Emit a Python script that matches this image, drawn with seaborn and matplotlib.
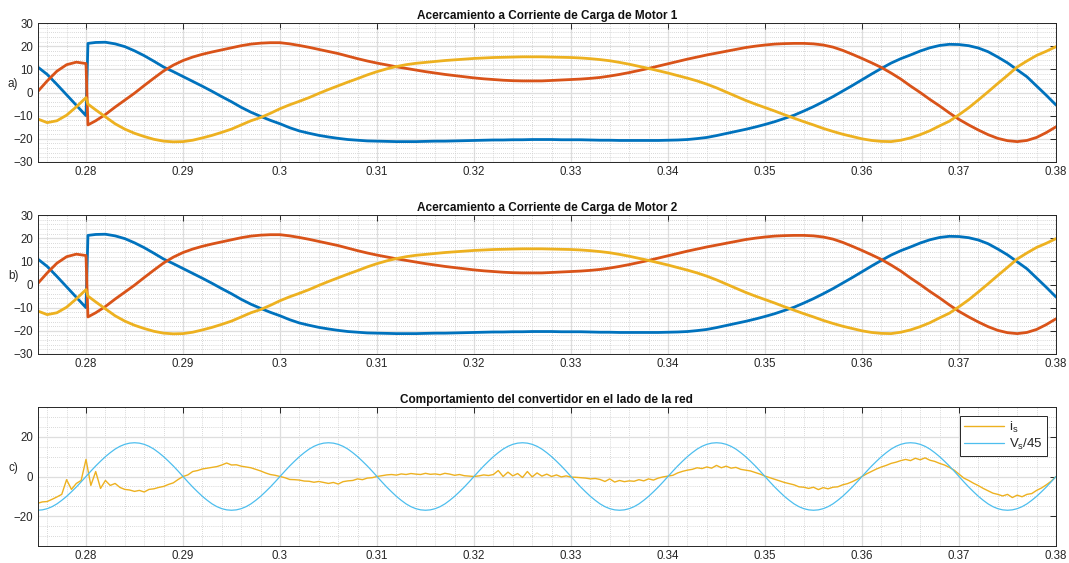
import numpy as np
import pandas as pd
import matplotlib
matplotlib.use("Agg")
import matplotlib.pyplot as plt
from matplotlib.ticker import MultipleLocator, FixedLocator, FixedFormatter
import seaborn as sns

# ---------------------------------------------------------------------------
# Motor load currents (A), three phases.
# First 8 instants cover the start-up step at 0.28 s, then 1 ms spacing.
# ---------------------------------------------------------------------------
t_motor_start = [0.275, 0.276, 0.277, 0.278, 0.279, 0.2800, 0.2802, 0.281]
t_motor_step_from = 0.282   # regular 1 ms samples up to 0.380 s

i_phase_a = [
    11.1, 7.8, 3.5, -1.0, -5.5, -10.0, 21.2, 21.6,                      # start-up
    21.7, 21.0, 19.8, 18.0, 15.9, 13.5, 11.0, 9.0, 6.9, 4.8,            # 0.282
    2.7, 0.5, -1.8, -4.0, -6.4, -8.5, -10.3, -12.0, -13.5, -15.2,       # 0.292
    -16.6, -17.6, -18.5, -19.2, -19.8, -20.3, -20.6, -20.9, -21.0, -21.1,  # 0.302
    -21.2, -21.2, -21.2, -21.1, -21.0, -21.0, -20.9, -20.8, -20.7, -20.6,  # 0.312
    -20.5, -20.5, -20.4, -20.4, -20.3, -20.3, -20.3, -20.4, -20.4, -20.4,  # 0.322
    -20.5, -20.6, -20.6, -20.7, -20.7, -20.7, -20.7, -20.7, -20.6, -20.5,  # 0.332
    -20.3, -19.9, -19.4, -18.6, -17.7, -16.8, -15.9, -14.9, -13.8, -12.6,  # 0.342
    -11.2, -9.8, -8.0, -6.1, -4.0, -1.8, 0.6, 3.0, 5.5, 8.0,            # 0.352
    10.4, 12.7, 14.6, 16.2, 17.9, 19.3, 20.3, 20.8, 20.7, 20.2,         # 0.362
    19.2, 17.6, 15.3, 12.8, 9.8, 6.8, 2.8, -1.2, -5.4,                  # 0.372
]

i_phase_b = [
    0.3, 5.0, 9.2, 12.0, 13.1, 12.5, -14.0, -12.2,                      # start-up
    -9.5, -6.3, -3.3, -0.3, 3.0, 6.2, 9.3, 11.8, 13.8, 15.3,            # 0.282
    16.5, 17.5, 18.4, 19.3, 20.2, 20.9, 21.3, 21.5, 21.5, 21.0,         # 0.292
    20.3, 19.5, 18.6, 17.7, 16.8, 15.7, 14.6, 13.6, 12.7, 11.9,         # 0.302
    11.1, 10.4, 9.7, 9.0, 8.4, 7.8, 7.3, 6.8, 6.3, 5.9,                 # 0.312
    5.6, 5.3, 5.1, 5.0, 5.0, 5.0, 5.2, 5.4, 5.6, 5.8,                   # 0.322
    6.1, 6.5, 7.1, 7.8, 8.6, 9.5, 10.4, 11.4, 12.4, 13.4,               # 0.332
    14.4, 15.3, 16.2, 17.0, 17.8, 18.6, 19.4, 20.0, 20.5, 20.9,         # 0.342
    21.1, 21.2, 21.2, 21.0, 20.5, 19.6, 18.2, 16.5, 14.7, 12.8,         # 0.352
    10.8, 8.4, 5.8, 2.8, 0.0, -3.0, -5.8, -8.8, -11.6, -14.0,           # 0.362
    -16.2, -18.2, -19.8, -20.8, -21.2, -20.7, -19.4, -17.3, -14.8,      # 0.372
]

i_phase_c = [
    -11.4, -13.0, -12.2, -9.8, -6.2, -2.2, -5.0, -7.5,                  # start-up
    -10.5, -13.5, -15.8, -17.6, -19.0, -20.2, -21.0, -21.3, -21.2, -20.6,  # 0.282
    -19.6, -18.5, -17.2, -15.8, -14.0, -12.2, -10.8, -9.0, -7.0, -5.3,  # 0.292
    -3.8, -2.2, -0.4, 1.3, 2.9, 4.5, 6.0, 7.6, 9.0, 10.2,               # 0.302
    11.2, 12.0, 12.6, 13.0, 13.4, 13.8, 14.1, 14.4, 14.7, 14.9,         # 0.312
    15.1, 15.2, 15.3, 15.4, 15.4, 15.4, 15.3, 15.2, 15.1, 14.9,         # 0.322
    14.6, 14.2, 13.7, 13.0, 12.2, 11.3, 10.4, 9.4, 8.4, 7.3,            # 0.332
    6.2, 5.0, 3.6, 2.0, 0.2, -1.6, -3.4, -5.0, -6.5, -8.0,              # 0.342
    -9.6, -11.1, -12.6, -14.0, -15.5, -16.8, -18.0, -19.0, -20.0, -20.7,  # 0.352
    -21.1, -21.2, -20.6, -19.6, -18.2, -16.5, -14.4, -12.4, -9.6, -6.6,   # 0.362
    -3.2, 0.3, 3.9, 7.4, 11.0, 13.6, 16.0, 17.8, 19.8,                  # 0.372
]

# ---------------------------------------------------------------------------
# Grid side of the converter, one row = 5 ms (10 samples of 0.5 ms) from 0.275 s
# ---------------------------------------------------------------------------
t_grid_start = 0.275
t_grid_step = 0.0005

i_s = [
    -13.5, -12.8, -12.6, -11.5, -10.3, -9.0, -1.6, -6.5, -3.5, -2.0,   # 0.275
    8.6, -4.5, 2.5, -6.0, -2.0, -4.5, -3.5, -5.5, -6.5, -6.8,          # 0.280
    -7.5, -7.0, -7.8, -6.5, -6.2, -5.5, -5.0, -4.0, -3.2, -1.5,        # 0.285
    0.0, 0.8, 2.5, 3.0, 3.8, 4.2, 4.6, 5.0, 5.8, 6.8,                  # 0.290
    5.8, 5.9, 5.2, 4.8, 4.4, 3.6, 2.8, 1.8, 1.0, 0.6,                  # 0.295
    0.0, -0.6, -1.5, -1.6, -1.8, -2.3, -2.4, -2.9, -2.5, -3.0,         # 0.300
    -3.5, -3.0, -3.8, -2.6, -2.2, -2.0, -1.2, -1.6, -0.8, -0.6,        # 0.305
    0.0, 0.4, 0.8, 1.0, 0.7, 1.3, 1.0, 1.5, 1.2, 1.0,                  # 0.310
    1.6, 1.1, 1.3, 0.9, 1.6, 1.2, 0.6, 1.0, 0.4, 0.2,                  # 0.315
    0.0, 0.3, 0.8, 0.5, 1.0, 3.0, 0.0, 2.2, 0.3, 1.5,                  # 0.320
    -0.5, 2.5, -0.2, 1.8, 0.2, 1.2, 0.0, 0.8, -0.2, 0.3,               # 0.325
    -0.3, -0.4, -0.6, -0.8, -1.2, -1.0, -1.5, -2.5, -1.2, -2.8,        # 0.330
    -2.0, -2.6, -2.2, -2.4, -1.6, -2.2, -1.2, -1.8, -0.8, -0.2,        # 0.335
    0.2, 0.6, 1.8, 2.6, 3.2, 3.6, 4.4, 4.0, 4.8, 4.2,                  # 0.340
    5.6, 4.4, 5.2, 4.2, 4.6, 3.6, 3.2, 2.8, 2.0, 1.2,                  # 0.345
    0.2, -0.6, -1.4, -2.2, -3.0, -3.6, -4.2, -5.2, -5.4, -6.0,         # 0.350
    -5.4, -6.6, -5.6, -6.2, -5.4, -5.2, -4.2, -3.6, -2.6, -1.4,        # 0.355
    0.0, 1.4, 2.6, 3.8, 4.8, 5.6, 6.6, 7.2, 8.0, 8.6,                  # 0.360
    8.0, 9.2, 8.4, 9.4, 8.2, 7.6, 6.6, 5.8, 4.6, 3.2,                  # 0.365
    1.2, -0.8, -2.0, -3.4, -4.6, -6.0, -7.2, -8.4, -9.0, -9.8,         # 0.370
    -9.0, -10.6, -9.4, -10.2, -9.0, -8.6, -7.0, -5.8, -4.2, -2.4,      # 0.375
    0.0,                                                               # 0.380
]

vs_over_45 = [
    -17.0, -16.8, -16.2, -15.2, -13.8, -12.0, -10.0, -7.7, -5.3, -2.7,  # 0.275
    0.0, 2.7, 5.3, 7.7, 10.0, 12.0, 13.8, 15.2, 16.2, 16.8,             # 0.280
    17.0, 16.8, 16.2, 15.2, 13.8, 12.0, 10.0, 7.7, 5.3, 2.7,            # 0.285
    0.0, -2.7, -5.3, -7.7, -10.0, -12.0, -13.8, -15.2, -16.2, -16.8,    # 0.290
    -17.0, -16.8, -16.2, -15.2, -13.8, -12.0, -10.0, -7.7, -5.3, -2.7,  # 0.295
    0.0, 2.7, 5.3, 7.7, 10.0, 12.0, 13.8, 15.2, 16.2, 16.8,             # 0.300
    17.0, 16.8, 16.2, 15.2, 13.8, 12.0, 10.0, 7.7, 5.3, 2.7,            # 0.305
    0.0, -2.7, -5.3, -7.7, -10.0, -12.0, -13.8, -15.2, -16.2, -16.8,    # 0.310
    -17.0, -16.8, -16.2, -15.2, -13.8, -12.0, -10.0, -7.7, -5.3, -2.7,  # 0.315
    0.0, 2.7, 5.3, 7.7, 10.0, 12.0, 13.8, 15.2, 16.2, 16.8,             # 0.320
    17.0, 16.8, 16.2, 15.2, 13.8, 12.0, 10.0, 7.7, 5.3, 2.7,            # 0.325
    0.0, -2.7, -5.3, -7.7, -10.0, -12.0, -13.8, -15.2, -16.2, -16.8,    # 0.330
    -17.0, -16.8, -16.2, -15.2, -13.8, -12.0, -10.0, -7.7, -5.3, -2.7,  # 0.335
    0.0, 2.7, 5.3, 7.7, 10.0, 12.0, 13.8, 15.2, 16.2, 16.8,             # 0.340
    17.0, 16.8, 16.2, 15.2, 13.8, 12.0, 10.0, 7.7, 5.3, 2.7,            # 0.345
    0.0, -2.7, -5.3, -7.7, -10.0, -12.0, -13.8, -15.2, -16.2, -16.8,    # 0.350
    -17.0, -16.8, -16.2, -15.2, -13.8, -12.0, -10.0, -7.7, -5.3, -2.7,  # 0.355
    0.0, 2.7, 5.3, 7.7, 10.0, 12.0, 13.8, 15.2, 16.2, 16.8,             # 0.360
    17.0, 16.8, 16.2, 15.2, 13.8, 12.0, 10.0, 7.7, 5.3, 2.7,            # 0.365
    0.0, -2.7, -5.3, -7.7, -10.0, -12.0, -13.8, -15.2, -16.2, -16.8,    # 0.370
    -17.0, -16.8, -16.2, -15.2, -13.8, -12.0, -10.0, -7.7, -5.3, -2.7,  # 0.375
    0.0,                                                                # 0.380
]

x_ticks = [0.28, 0.29, 0.30, 0.31, 0.32, 0.33, 0.34, 0.35, 0.36, 0.37, 0.38]
x_tick_labels = ["0.28", "0.29", "0.3", "0.31", "0.32", "0.33", "0.34",
                 "0.35", "0.36", "0.37", "0.38"]
motor_y_ticks = [-30, -20, -10, 0, 10, 20, 30]
grid_y_ticks = [-20, 0, 20]

titles = ["Acercamiento a Corriente de Carga de Motor 1",
          "Acercamiento a Corriente de Carga de Motor 2",
          "Comportamiento del convertidor en el lado de la red"]
panel_tags = ["a)", "b)", "c)"]

phase_colors = ["#0072BD", "#D95319", "#EDB120"]
is_color = "#EDB120"
vs_color = "#4DBEEE"

# ---------------------------------------------------------------------------
sns.set_style("white")
plt.rcParams["font.family"] = ["Liberation Sans", "DejaVu Sans"]
plt.rcParams["mathtext.fontset"] = "custom"
plt.rcParams["mathtext.rm"] = "Liberation Sans"

n_regular = len(i_phase_a) - len(t_motor_start)
t_motor = t_motor_start + list(np.round(t_motor_step_from + 0.001 * np.arange(n_regular), 4))
motor_df = pd.DataFrame({"t": t_motor, "A": i_phase_a, "B": i_phase_b, "C": i_phase_c})
t_grid = np.round(t_grid_start + t_grid_step * np.arange(len(i_s)), 4)
grid_df = pd.DataFrame({"t": t_grid, "is": i_s, "vs": vs_over_45})

fig = plt.figure(figsize=(10.69, 5.63), dpi=100)
left, width, height = 37.5 / 1069, (1056 - 37.5) / 1069, 139 / 563
bottoms = [1 - 162 / 563, 1 - 354 / 563, 1 - 546 / 563]
axes = [fig.add_axes([left, b, width, height]) for b in bottoms]

edge = "#262626"


def style_axis(ax, yticks, ylim, yminor, title, tag):
    ax.set_xlim(0.275, 0.38)
    ax.set_ylim(*ylim)
    ax.xaxis.set_major_locator(FixedLocator(x_ticks))
    ax.xaxis.set_major_formatter(FixedFormatter(x_tick_labels))
    ax.xaxis.set_minor_locator(MultipleLocator(0.002))
    ax.yaxis.set_major_locator(FixedLocator(yticks))
    ax.yaxis.set_minor_locator(MultipleLocator(yminor))
    ax.set_axisbelow(True)
    ax.grid(which="major", color="#dedede", lw=0.9, ls="-")
    ax.grid(which="minor", color="#cccccc", lw=0.6, ls=(0, (1, 1.5)))
    ax.tick_params(which="major", direction="in", length=4.5, width=0.7,
                   top=True, right=True, colors=edge, labelsize=8.3,
                   labelcolor="#262626", pad=3)
    ax.tick_params(which="minor", length=0)
    for s in ax.spines.values():
        s.set_color(edge)
        s.set_linewidth(0.7)
    ax.set_title(title, fontsize=8.5, fontweight="bold", color="#111111", pad=3)
    ax.set_xlabel("")
    ax.set_ylabel(tag, rotation=0, fontsize=8.5, color="#262626", ha="center", va="center")
    ax.yaxis.set_label_coords(-0.024, 0.56)


# Motor current panels
for ax, k in zip(axes[:2], range(2)):
    for col, color in zip(["A", "B", "C"], phase_colors):
        sns.lineplot(data=motor_df, x="t", y=col, ax=ax, color=color, lw=2.0,
                     sort=False, estimator=None, legend=False)
    style_axis(ax, motor_y_ticks, (-30, 30), 2, titles[k], panel_tags[k])

# Grid side panel
axc = axes[2]
sns.lineplot(data=grid_df, x="t", y="is", ax=axc, color=is_color, lw=1.0,
             sort=False, estimator=None, label=r"i$_\mathregular{s}$")
sns.lineplot(data=grid_df, x="t", y="vs", ax=axc, color=vs_color, lw=0.9,
             sort=False, estimator=None, label=r"V$_\mathregular{s}$/45")
style_axis(axc, grid_y_ticks, (-35, 35), 5, titles[2], panel_tags[2])
leg = axc.legend(loc="upper right", bbox_to_anchor=(1 - 9 / 1019, 1 - 9 / 139),
                 borderaxespad=0, frameon=True, fancybox=False, framealpha=1,
                 edgecolor="#262626", fontsize=9.5, handlelength=3.0,
                 handletextpad=0.4, borderpad=0.3, labelspacing=0.15)
leg.get_frame().set_linewidth(0.7)

fig.savefig("out.png", dpi=100)
